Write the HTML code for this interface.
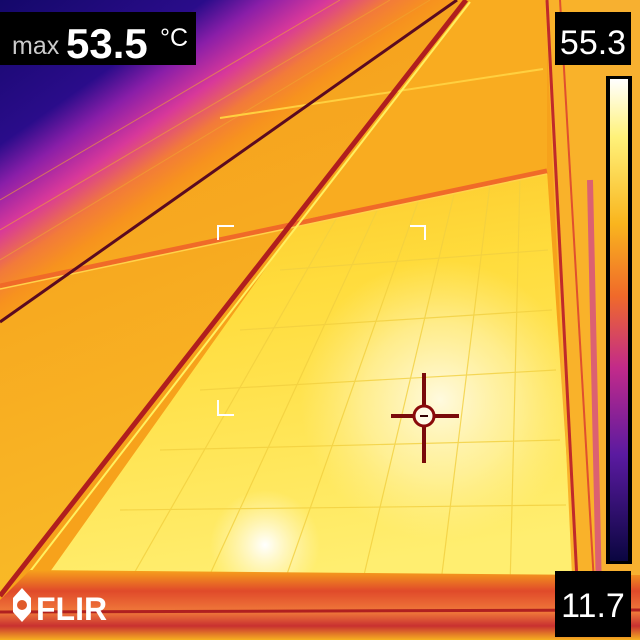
<!DOCTYPE html>
<html><head><meta charset="utf-8">
<style>
html,body{margin:0;padding:0;background:#000;}
svg{display:block;}
text{font-family:"Liberation Sans",sans-serif;}
</style></head>
<body>
<svg width="640" height="640" viewBox="0 0 640 640">
<defs>
  <linearGradient id="sky" x1="0" y1="0" x2="151" y2="215" gradientUnits="userSpaceOnUse">
    <stop offset="0" stop-color="#14086a"/>
    <stop offset="0.45" stop-color="#2a0c8a"/>
    <stop offset="0.58" stop-color="#8a1ea8"/>
    <stop offset="0.72" stop-color="#d8389a"/>
    <stop offset="0.85" stop-color="#f27a3a"/>
    <stop offset="0.95" stop-color="#f7921e"/>
    <stop offset="1" stop-color="#f79a1c"/>
  </linearGradient>
  <linearGradient id="leftpanel" x1="0" y1="0" x2="0.3" y2="1">
    <stop offset="0" stop-color="#f59a1c"/>
    <stop offset="0.5" stop-color="#f7aa20"/>
    <stop offset="1" stop-color="#f9bc28"/>
  </linearGradient>
  <linearGradient id="mainpanel" x1="0" y1="0" x2="0.2" y2="1">
    <stop offset="0" stop-color="#fbc42a"/>
    <stop offset="0.35" stop-color="#ffdc3c"/>
    <stop offset="1" stop-color="#ffee70"/>
  </linearGradient>
  <radialGradient id="hot1" cx="440" cy="400" r="140" gradientUnits="userSpaceOnUse">
    <stop offset="0" stop-color="#fffbe6" stop-opacity="0.95"/>
    <stop offset="0.55" stop-color="#fff6c0" stop-opacity="0.55"/>
    <stop offset="1" stop-color="#fff0a0" stop-opacity="0"/>
  </radialGradient>
  <radialGradient id="hot2" cx="265" cy="545" r="55" gradientUnits="userSpaceOnUse">
    <stop offset="0" stop-color="#ffffff" stop-opacity="1"/>
    <stop offset="1" stop-color="#fff8d0" stop-opacity="0"/>
  </radialGradient>
  <linearGradient id="scale" x1="0" y1="0" x2="0" y2="1">
    <stop offset="0" stop-color="#ffffff"/>
    <stop offset="0.12" stop-color="#fff27a"/>
    <stop offset="0.3" stop-color="#f9b51e"/>
    <stop offset="0.45" stop-color="#f06a2a"/>
    <stop offset="0.6" stop-color="#c22a8a"/>
    <stop offset="0.78" stop-color="#5a1aa0"/>
    <stop offset="1" stop-color="#0a0640"/>
  </linearGradient>
  <linearGradient id="bottomband" x1="0" y1="0" x2="0" y2="1">
    <stop offset="0" stop-color="#f7a21b"/>
    <stop offset="0.3" stop-color="#e04a2a"/>
    <stop offset="0.6" stop-color="#f07a3a"/>
    <stop offset="0.8" stop-color="#c83030"/>
    <stop offset="1" stop-color="#f7b020"/>
  </linearGradient>
</defs>

<rect x="0" y="0" width="640" height="640" fill="#f7a21b"/>
<polygon points="0,0 470,0 0,330" fill="url(#sky)"/>
<polygon points="457,0 466,0 0,596 0,322" fill="url(#leftpanel)"/>
<polygon points="300,220 547,171 575,580 30,600" fill="url(#mainpanel)"/>
<polygon points="466,0 547,0 547,171 300,220" fill="#f9ac20"/>
<rect x="0" y="0" width="640" height="640" fill="url(#hot1)"/>
<rect x="0" y="0" width="640" height="640" fill="url(#hot2)"/>

<g stroke="#f2d040" stroke-width="1.2" opacity="0.8">
  <line x1="340" y1="212" x2="120" y2="598"/>
  <line x1="380" y1="204" x2="200" y2="596"/>
  <line x1="420" y1="196" x2="280" y2="594"/>
  <line x1="455" y1="190" x2="360" y2="592"/>
  <line x1="490" y1="184" x2="440" y2="590"/>
  <line x1="520" y1="178" x2="510" y2="588"/>
  <line x1="280" y1="270" x2="548" y2="250"/>
  <line x1="240" y1="330" x2="552" y2="310"/>
  <line x1="200" y1="390" x2="556" y2="370"/>
  <line x1="160" y1="450" x2="560" y2="440"/>
  <line x1="120" y1="510" x2="566" y2="505"/>
</g>
<g stroke="#f0a830" stroke-width="1" opacity="0.6">
  <line x1="0" y1="230" x2="390" y2="0"/>
  <line x1="0" y1="260" x2="430" y2="0"/>
  <line x1="0" y1="200" x2="340" y2="0"/>
</g>

<line x1="0" y1="286" x2="547" y2="171" stroke="#f06a28" stroke-width="5"/>
<line x1="0" y1="289" x2="547" y2="174" stroke="#ffd24a" stroke-width="1.5"/>
<line x1="220" y1="118" x2="543" y2="69" stroke="#ffd040" stroke-width="2"/>
<line x1="0" y1="322" x2="457" y2="0" stroke="#5a0a20" stroke-width="3"/>
<line x1="0" y1="596" x2="466" y2="0" stroke="#b01e1e" stroke-width="5"/>
<line x1="8" y1="600" x2="470" y2="2" stroke="#fff060" stroke-width="2"/>

<polygon points="545,0 600,0 605,640 575,640" fill="#f9b22a"/>
<line x1="547" y1="0" x2="578" y2="600" stroke="#c02a2a" stroke-width="3"/>
<line x1="560" y1="0" x2="595" y2="600" stroke="#e0502e" stroke-width="2"/>
<rect x="600" y="0" width="40" height="640" fill="#f7b030"/>
<line x1="590" y1="180" x2="600" y2="640" stroke="#d04090" stroke-width="6" opacity="0.7"/>

<polygon points="0,600 30,570 600,575 640,575 640,640 0,640" fill="url(#bottomband)"/>
<line x1="0" y1="612" x2="640" y2="610" stroke="#b02020" stroke-width="3"/>

<g stroke="#ffffff" stroke-width="2" fill="none">
  <polyline points="218,240 218,226 234,226"/>
  <polyline points="410,226 425,226 425,240"/>
  <polyline points="218,400 218,415 234,415"/>
</g>

<g>
  <line x1="424" y1="373" x2="424" y2="463" stroke="#7a0a0a" stroke-width="4"/>
  <line x1="391" y1="416" x2="459" y2="416" stroke="#7a0a0a" stroke-width="4"/>
  <circle cx="424" cy="416" r="10" fill="#fffbe6" stroke="#8a0a0a" stroke-width="3"/>
  <line x1="420" y1="416" x2="428" y2="416" stroke="#300" stroke-width="2"/>
</g>

<rect x="0" y="12" width="196" height="53" fill="#000"/>
<text x="12" y="54" font-size="25" fill="#cccccc">max</text>
<text x="66" y="58" font-size="42" font-weight="bold" fill="#ffffff">53.5</text>
<text x="160" y="46" font-size="25" fill="#ffffff">°C</text>

<rect x="555" y="12" width="76" height="53" fill="#000"/>
<text x="593" y="54" font-size="34" fill="#ffffff" text-anchor="middle">55.3</text>
<rect x="606" y="76" width="26" height="488" fill="#000"/>
<rect x="610" y="79" width="18" height="482" fill="url(#scale)"/>
<rect x="555" y="571" width="76" height="66" fill="#000"/>
<text x="593" y="617" font-size="34" fill="#ffffff" text-anchor="middle">11.7</text>

<g>
  <polygon points="22,588 31,598 31,612 22,622 13,612 13,598" fill="#ffffff"/>
  <circle cx="22" cy="605" r="5" fill="#e05a2a"/>
  <text x="36" y="620" font-size="32" font-weight="bold" fill="#ffffff">FLIR</text>
</g>
</svg>
</body></html>
